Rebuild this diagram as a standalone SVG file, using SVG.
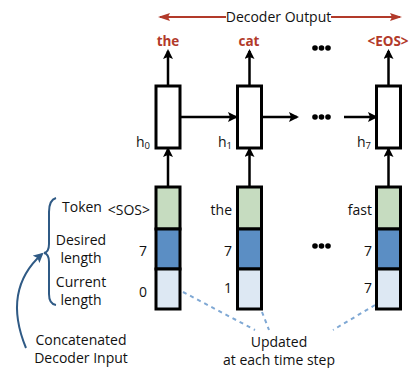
<svg xmlns="http://www.w3.org/2000/svg" width="410" height="368" viewBox="0 0 410 368">
<style>
text{font-family:"Open Sans","Liberation Sans",sans-serif;font-size:14px;fill:#111}
.out{fill:#b23a2a;font-weight:bold;text-anchor:middle;font-size:13.5px}
.c{text-anchor:middle}
.e{text-anchor:end}
.box{fill:#fff;stroke:#000;stroke-width:3}
.tok{fill:#c6dcc0;stroke:#000;stroke-width:3}
.des{fill:#5b8ec4;stroke:#000;stroke-width:3}
.cur{fill:#dde8f3;stroke:#000;stroke-width:3}
.ar{stroke:#000;stroke-width:2.5;fill:none;marker-end:url(#ah)}
.red{stroke:#b23a2a;stroke-width:2;fill:none;marker-end:url(#rh)}
.dot{stroke:#7fa8d4;stroke-width:2;stroke-dasharray:4 4;fill:none}
.br{stroke:#2f5a85;stroke-width:2;fill:none}
</style>
<defs>
<marker id="ah" markerWidth="10" markerHeight="10" refX="8" refY="5" orient="auto" markerUnits="userSpaceOnUse"><path d="M0,0 L10,5 L0,10 L2,5 z" fill="#000"/></marker>
<marker id="rh" markerWidth="12" markerHeight="10" refX="10" refY="5" orient="auto" markerUnits="userSpaceOnUse"><path d="M0,1 L12,5 L0,9 L2,5 z" fill="#b23a2a"/></marker>
<marker id="bh" markerWidth="10" markerHeight="10" refX="8" refY="5" orient="auto" markerUnits="userSpaceOnUse"><path d="M0,0 L10,5 L0,10 L2,5 z" fill="#2f5a85"/></marker>
</defs>
<g id="connectors">
<line class="red" x1="226" y1="17" x2="160" y2="17"/>
<line class="red" x1="331" y1="17" x2="400" y2="17"/>
<line class="ar" x1="168" y1="86" x2="168" y2="51"/>
<line class="ar" x1="249.5" y1="86" x2="249.5" y2="51"/>
<line class="ar" x1="388.5" y1="86" x2="388.5" y2="51"/>
<line class="ar" x1="180" y1="117" x2="236" y2="117"/>
<line class="ar" x1="262" y1="117" x2="297" y2="117"/>
<line class="ar" x1="344" y1="117" x2="376" y2="117"/>
<line class="ar" x1="168" y1="187" x2="168" y2="149"/>
<line class="ar" x1="249.5" y1="187" x2="249.5" y2="149"/>
<line class="ar" x1="388.5" y1="187" x2="388.5" y2="149"/>
<line class="dot" x1="183" y1="292" x2="255" y2="330"/>
<line class="dot" x1="262" y1="312" x2="269" y2="330"/>
<line class="dot" x1="375" y1="305" x2="333" y2="330"/>
<path class="br" d="M56,198 Q49,200 49,212 L49,244 Q49,252 44,253 Q49,254 49,262 L49,294 Q49,304 56,305"/>
<path class="br" d="M26,348 Q2,290 42,254" marker-end="url(#bh)"/>
</g>
<g id="title"><text class="c" x="278.5" y="22">Decoder Output</text></g>
<g id="outputs">
<text class="out" x="168" y="46">the</text>
<text class="out" x="249" y="46">cat</text>
<text class="out" x="388" y="46">&lt;EOS&gt;</text>
<g fill="#000"><circle cx="315" cy="48" r="2.8"/><circle cx="321.5" cy="48" r="2.8"/><circle cx="328" cy="48" r="2.8"/></g>
</g>
<g id="dots-mid" fill="#000"><circle cx="315" cy="117" r="2.8"/><circle cx="321.5" cy="117" r="2.8"/><circle cx="328" cy="117" r="2.8"/></g>
<g id="dots-low" fill="#000"><circle cx="315" cy="246" r="2.8"/><circle cx="321.5" cy="246" r="2.8"/><circle cx="328" cy="246" r="2.8"/></g>
<g id="h0"><rect class="box" x="156" y="86" width="24" height="62"/><text class="e" x="150" y="147">h<tspan font-size="9.5" dy="2">0</tspan></text></g>
<g id="h1"><rect class="box" x="237.5" y="86" width="24" height="62"/><text class="e" x="232" y="147">h<tspan font-size="9.5" dy="2">1</tspan></text></g>
<g id="h7"><rect class="box" x="376.5" y="86" width="24" height="62"/><text class="e" x="371" y="147">h<tspan font-size="9.5" dy="2">7</tspan></text></g>
<g id="input0">
<rect class="tok" x="156" y="187" width="24" height="42"/>
<rect class="des" x="156" y="229" width="24" height="40"/>
<rect class="cur" x="156" y="269" width="24" height="40"/>
<text class="e" x="150" y="215">&lt;SOS&gt;</text>
<text class="e" x="147" y="256">7</text>
<text class="e" x="147" y="297">0</text>
</g>
<g id="input1">
<rect class="tok" x="237.5" y="187" width="24" height="42"/>
<rect class="des" x="237.5" y="229" width="24" height="40"/>
<rect class="cur" x="237.5" y="269" width="24" height="40"/>
<text class="e" x="232" y="215">the</text>
<text class="e" x="232" y="256">7</text>
<text class="e" x="232" y="293">1</text>
</g>
<g id="input7">
<rect class="tok" x="376.5" y="187" width="24" height="42"/>
<rect class="des" x="376.5" y="229" width="24" height="40"/>
<rect class="cur" x="376.5" y="269" width="24" height="40"/>
<text class="e" x="372" y="215">fast</text>
<text class="e" x="372" y="256">7</text>
<text class="e" x="372" y="293">7</text>
</g>
<g id="labels">
<text x="62" y="212">Token</text>
<text class="c" x="81" y="245">Desired</text>
<text class="c" x="81" y="263">length</text>
<text class="c" x="81" y="287">Current</text>
<text class="c" x="81" y="305">length</text>
</g>
<g id="concat"><text class="c" x="81" y="345">Concatenated</text><text class="c" x="81" y="363">Decoder Input</text></g>
<g id="updated"><text class="c" x="279" y="347">Updated</text><text class="c" x="279" y="365">at each time step</text></g>
</svg>
